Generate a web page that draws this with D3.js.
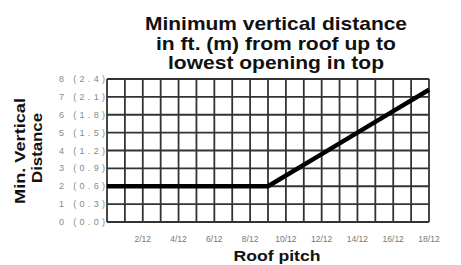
<html>
<head>
<script src="https://d3js.org/d3.v7.min.js"></script>
<style>
  body {margin:0; background:#fff;}
  text {font-family: "Liberation Sans", Arial, sans-serif;}
</style>
</head>
<body>
<svg id="chart" width="461" height="265"></svg>
<script>
// roof pitch in twelfths -> min vertical distance (ft)
var pitch = [0, 9, 12, 14, 16, 18];
var distFt = [2, 2, 3.8, 5, 6.2, 7.4];

var xTicks = [2, 4, 6, 8, 10, 12, 14, 16, 18];
var xTickLabels = ["2/12", "4/12", "6/12", "8/12", "10/12", "12/12", "14/12", "16/12", "18/12"];
var yTicks = [0, 1, 2, 3, 4, 5, 6, 7, 8];
var yTickLabels = ["0 (0.0)", "1 (0.3)", "2 (0.6)", "3 (0.9)", "4 (1.2)", "5 (1.5)", "6 (1.8)", "7 (2.1)", "8 (2.4)"];
var titleLines = ["Minimum vertical distance", "in ft. (m) from roof up to", "lowest opening in top"];
var titleWidths = [262, 240, 216];

var svg = d3.select("#chart");

var x = d3.scaleLinear().domain([0, 18]).range([107, 429]);
var y = d3.scaleLinear().domain([0, 8]).range([222, 79]);

// grid
svg.append("g").selectAll("line")
  .data(d3.range(0, 19))
  .enter().append("line")
  .attr("x1", d => x(d)).attr("x2", d => x(d))
  .attr("y1", y(0)).attr("y2", y(8))
  .attr("stroke", "#333").attr("stroke-width", 1.8);

svg.append("g").selectAll("line")
  .data(d3.range(0, 9))
  .enter().append("line")
  .attr("x1", x(0)).attr("x2", x(18))
  .attr("y1", d => y(d)).attr("y2", d => y(d))
  .attr("stroke", "#333").attr("stroke-width", 1.8);

// data line
var line = d3.line().x((d, i) => x(pitch[i])).y(d => y(d));
svg.append("path")
  .datum(distFt)
  .attr("d", line)
  .attr("fill", "none")
  .attr("stroke", "#000")
  .attr("stroke-width", 4.5)
  .attr("stroke-linejoin", "round");

// y tick labels
svg.append("g").selectAll("text")
  .data(yTicks)
  .enter().append("text")
  .attr("x", 105)
  .attr("y", d => y(d) + 3)
  .attr("text-anchor", "end")
  .attr("font-size", 9)
  .attr("fill", "#888")
  .attr("textLength", 46)
  .attr("lengthAdjust", "spacing")
  .text((d, i) => yTickLabels[i]);

// x tick labels
svg.append("g").selectAll("text")
  .data(xTicks)
  .enter().append("text")
  .attr("x", d => x(d))
  .attr("y", 242)
  .attr("text-anchor", "middle")
  .attr("font-size", 8.5)
  .attr("fill", "#777")
  .text((d, i) => xTickLabels[i]);

// title
svg.append("g").selectAll("text")
  .data(titleLines)
  .enter().append("text")
  .attr("x", 276)
  .attr("y", (d, i) => 30 + i * 19.5)
  .attr("text-anchor", "middle")
  .attr("font-size", 19)
  .attr("font-weight", "bold")
  .attr("fill", "#111")
  .attr("textLength", (d, i) => titleWidths[i])
  .attr("lengthAdjust", "spacingAndGlyphs")
  .text(d => d);

// axis titles
svg.append("text")
  .attr("x", 277).attr("y", 261)
  .attr("text-anchor", "middle")
  .attr("font-size", 15)
  .attr("font-weight", "bold")
  .attr("fill", "#111")
  .attr("textLength", 87)
  .attr("lengthAdjust", "spacingAndGlyphs")
  .text("Roof pitch");

svg.append("text")
  .attr("transform", "translate(25,151) rotate(-90)")
  .attr("text-anchor", "middle")
  .attr("font-size", 14)
  .attr("font-weight", "bold")
  .attr("fill", "#111")
  .attr("textLength", 106)
  .attr("lengthAdjust", "spacingAndGlyphs")
  .text("Min. Vertical");

svg.append("text")
  .attr("transform", "translate(42,148) rotate(-90)")
  .attr("text-anchor", "middle")
  .attr("font-size", 14)
  .attr("font-weight", "bold")
  .attr("fill", "#111")
  .attr("textLength", 70)
  .attr("lengthAdjust", "spacingAndGlyphs")
  .text("Distance");
</script>
</body>
</html>
